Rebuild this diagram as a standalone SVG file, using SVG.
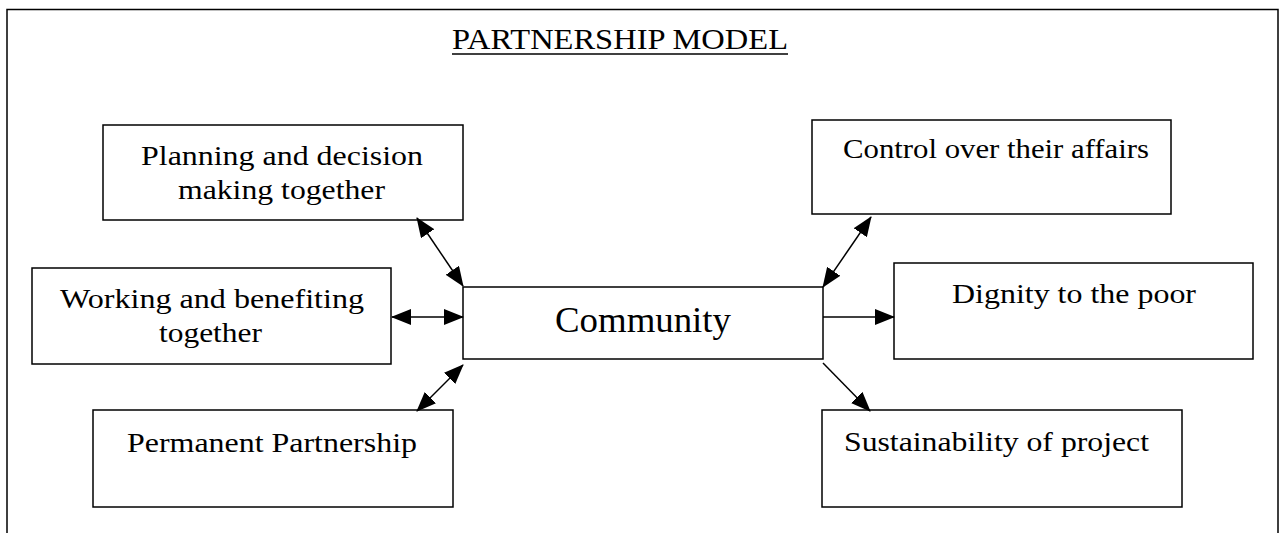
<svg xmlns="http://www.w3.org/2000/svg" width="1282" height="533" viewBox="0 0 1282 533">
<defs>
<style>
.box{fill:#fff;stroke:#000;stroke-width:1.5}
.t{font-family:"Liberation Serif","Times New Roman",serif;font-size:28px;fill:#000}
.c{stroke:#000;stroke-width:1.5;fill:none}
</style>
<marker id="ah" markerUnits="userSpaceOnUse" markerWidth="20" markerHeight="16" refX="19" refY="8" orient="auto-start-reverse" viewBox="0 0 20 16">
<path d="M0,0 L20,8 L0,16 z" fill="#000"/>
</marker>
</defs>
<rect width="1282" height="533" fill="#fff"/>
<path d="M7,533 V9.5 H1278 V533" class="c"/>
<g id="title">
<text x="452" y="49" style="font-family:'Liberation Serif','Times New Roman',serif;font-size:29px" textLength="336" lengthAdjust="spacingAndGlyphs">PARTNERSHIP MODEL</text>
<line x1="452" y1="54" x2="788" y2="54" stroke="#000" stroke-width="1.5"/>
</g>
<g id="planning">
<rect class="box" x="103" y="125" width="360" height="95"/>
<text class="t" x="141" y="165" textLength="282" lengthAdjust="spacingAndGlyphs">Planning and decision</text>
<text class="t" x="178" y="199" textLength="207" lengthAdjust="spacingAndGlyphs">making together</text>
</g>
<g id="working">
<rect class="box" x="32" y="268" width="359" height="96"/>
<text class="t" x="60" y="308" textLength="304" lengthAdjust="spacingAndGlyphs">Working and benefiting</text>
<text class="t" x="159" y="342" textLength="103" lengthAdjust="spacingAndGlyphs">together</text>
</g>
<g id="permanent">
<rect class="box" x="93" y="410" width="360" height="97"/>
<text class="t" x="127" y="452" textLength="290" lengthAdjust="spacingAndGlyphs">Permanent Partnership</text>
</g>
<g id="community">
<rect class="box" x="463" y="287" width="360" height="72"/>
<text x="555" y="332" style="font-family:'Liberation Serif','Times New Roman',serif;font-size:35px" textLength="176" lengthAdjust="spacingAndGlyphs">Community</text>
</g>
<g id="control">
<rect class="box" x="812" y="120" width="359" height="94"/>
<text class="t" x="843" y="158" textLength="306" lengthAdjust="spacingAndGlyphs">Control over their affairs</text>
</g>
<g id="dignity">
<rect class="box" x="894" y="263" width="359" height="96"/>
<text class="t" x="952" y="303" textLength="244" lengthAdjust="spacingAndGlyphs">Dignity to the poor</text>
</g>
<g id="sustainability">
<rect class="box" x="822" y="410" width="360" height="97"/>
<text class="t" x="844" y="451" textLength="305" lengthAdjust="spacingAndGlyphs">Sustainability of project</text>
</g>
<g id="connectors">
<line class="c" x1="417" y1="218" x2="463" y2="286" marker-start="url(#ah)" marker-end="url(#ah)"/>
<line class="c" x1="392" y1="317" x2="463" y2="317" marker-start="url(#ah)" marker-end="url(#ah)"/>
<line class="c" x1="463" y1="365" x2="417" y2="411" marker-start="url(#ah)" marker-end="url(#ah)"/>
<line class="c" x1="871" y1="217" x2="823" y2="287" marker-start="url(#ah)" marker-end="url(#ah)"/>
<line class="c" x1="823" y1="317" x2="894" y2="317" marker-end="url(#ah)"/>
<line class="c" x1="823" y1="363" x2="870" y2="411" marker-end="url(#ah)"/>
</g>
</svg>
